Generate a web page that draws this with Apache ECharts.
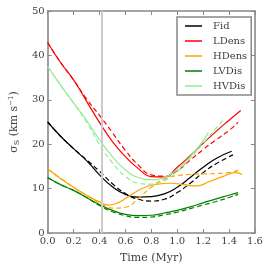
<!DOCTYPE html>
<html><head><meta charset="utf-8">
<script src="https://cdn.jsdelivr.net/npm/echarts@6/dist/echarts.min.js"></script>
<style>html,body{margin:0;padding:0;background:#fff}#c{width:266px;height:269px}</style>
</head><body><div id="c"></div>
<script>
const seriesNames = ['Fid','LDens','HDens','LVDis','HVDis'];
const xTicks = [0,0.2,0.4,0.6,0.8,1.0,1.2,1.4,1.6];
const yTicks = [0,10,20,30,40,50];
const markTime = 0.42;

const fidT  = [0,0.1,0.2,0.3,0.4,0.5,0.6,0.7,0.8,0.9,1.0,1.1,1.2,1.3,1.42];
const fidV  = [25,21.8,19.0,16.3,13.1,10.4,8.7,8.1,8.2,8.8,10.3,12.5,14.8,16.8,18.4];
const fidDT = [0,0.1,0.2,0.3,0.4,0.5,0.6,0.7,0.8,0.9,1.0,1.1,1.2,1.3,1.43];
const fidDV = [25,21.8,19.0,16.5,13.9,11.1,8.9,7.6,7.2,7.6,9.1,11.2,13.6,15.6,17.6];

const ldT  = [0,0.1,0.2,0.3,0.4,0.5,0.6,0.7,0.8,0.9,1.0,1.1,1.2,1.3,1.4,1.49];
const ldV  = [42.9,38.4,34.5,29.7,24.9,20.6,17.2,14.5,12.7,12.6,14.8,17.4,20.2,22.9,25.4,27.6];
const ldDT = [0,0.1,0.2,0.3,0.4,0.5,0.6,0.7,0.8,0.9,1.0,1.1,1.2,1.3,1.4,1.47];
const ldDV = [42.9,38.4,34.5,30.2,26.5,22.6,18.6,15.3,13.1,12.8,14.0,16.4,18.8,21.0,23.1,24.9];

const hdT  = [0,0.1,0.2,0.3,0.4,0.47,0.55,0.65,0.75,0.85,0.95,1.05,1.15,1.25,1.35,1.45,1.5];
const hdV  = [14.4,12.3,10.3,8.5,7.0,6.3,6.9,8.7,10.3,11.0,11.2,10.9,10.6,11.6,12.7,13.6,13.2];
const hdDT = [0,0.1,0.2,0.3,0.4,0.5,0.6,0.7,0.8,0.9,1.0,1.1,1.2,1.3,1.4,1.47];
const hdDV = [14.4,12.3,10.3,8.5,6.8,5.6,5.8,7.8,10.3,12.2,12.9,13.2,13.3,13.4,13.6,14.1];

const lvT  = [0,0.1,0.2,0.3,0.4,0.5,0.6,0.7,0.8,0.9,1.0,1.1,1.2,1.3,1.4,1.47];
const lvV  = [12.5,10.9,9.6,8.0,6.4,5.1,4.2,3.9,4.0,4.5,5.1,5.9,6.8,7.7,8.5,9.1];
const lvDV = [12.5,10.9,9.6,8.0,6.2,4.8,3.9,3.5,3.6,4.1,4.7,5.5,6.3,7.1,8.0,8.7];

const hvT  = [0,0.1,0.2,0.3,0.4,0.5,0.6,0.7,0.8,0.9,1.0,1.1,1.2,1.24];
const hvV  = [37.5,33.3,29.3,25.4,21.0,17.2,14.2,12.5,12.0,12.5,14.3,17.2,20.8,22.6];
const hvDT = [0,0.1,0.2,0.3,0.4,0.5,0.6,0.7,0.8,0.9,1.0,1.1,1.2,1.3,1.35];
const hvDV = [37.5,33.3,29.3,25.0,19.9,15.8,12.8,11.2,11.0,11.8,13.8,16.8,20.2,23.6,25.3];

const colors = {Fid:'#000000', LDens:'#ff0000', HDens:'#ffa500', LVDis:'#008000', HVDis:'#90ee90'};
const zip = (t, v) => t.map((x, i) => [x, v[i]]);
const FONT = 'DejaVu Serif';
const GREY = '#888888';
const TXT = '#404040';

function line(name, t, v, dashed) {
  return {
    name: dashed ? name + ' (dashed)' : name,
    type: 'line', data: zip(t, v), smooth: 0.5, showSymbol: false,
    lineStyle: {color: colors[name], width: 1.2, type: dashed ? [5, 3] : 'solid'},
    itemStyle: {color: colors[name]}, z: 3
  };
}

const series = [
  {type:'line', data:[], silent:true, z:1,
   markLine:{silent:true, symbol:['none','none'], label:{show:false},
     lineStyle:{color:'#cccccc', width:2, type:'solid'}, data:[{xAxis: markTime}]}},
  line('Fid', fidT, fidV, false), line('Fid', fidDT, fidDV, true),
  line('LDens', ldT, ldV, false), line('LDens', ldDT, ldDV, true),
  line('HDens', hdT, hdV, false), line('HDens', hdDT, hdDV, true),
  line('LVDis', lvT, lvV, false), line('LVDis', lvT, lvDV, true),
  line('HVDis', hvT, hvV, false), line('HVDis', hvDT, hvDV, true)
];

const axisCommon = {
  axisLine:{show:true, onZero:false, lineStyle:{color:GREY, width:1.6}},
  axisTick:{show:true, inside:true, length:4, lineStyle:{color:GREY, width:1}},
  splitLine:{show:false}
};

const chart = echarts.init(document.getElementById('c'), null, {renderer:'canvas'});
chart.setOption({
  animation:false,
  backgroundColor:'#ffffff',
  grid:{left:38, right:11, top:11, bottom:36, containLabel:false},
  xAxis:[
    Object.assign({type:'value', min:xTicks[0], max:xTicks[xTicks.length-1], interval:0.2, position:'bottom',
      name:'Time (Myr)', nameLocation:'middle', nameGap:20,
      nameTextStyle:{fontFamily:FONT, fontSize:11, color:TXT},
      axisLabel:{fontFamily:FONT, fontSize:10, color:TXT, margin:3, formatter:v=>v.toFixed(1)}}, axisCommon),
    Object.assign({type:'value', min:xTicks[0], max:xTicks[xTicks.length-1], interval:0.2, position:'top',
      axisLabel:{show:false}}, axisCommon)
  ],
  yAxis:[
    Object.assign({type:'value', min:yTicks[0], max:yTicks[yTicks.length-1], interval:10, position:'left',
      name:'{m|σ}{s|S}{m| (km s}{p|−1}{m|)}', nameLocation:'middle', nameGap:19, nameRotate:90,
      nameTextStyle:{fontFamily:FONT, fontSize:11, color:TXT,
        rich:{m:{fontFamily:FONT, fontSize:11, color:TXT},
              s:{fontFamily:FONT, fontSize:8, color:TXT, padding:[5,0,0,0]},
              p:{fontFamily:FONT, fontSize:7, color:TXT, padding:[0,0,6,0]}}},
      axisLabel:{fontFamily:FONT, fontSize:10, color:TXT, margin:3}}, axisCommon),
    Object.assign({type:'value', min:yTicks[0], max:yTicks[yTicks.length-1], interval:10, position:'right',
      axisLabel:{show:false}}, axisCommon)
  ],
  legend:{
    data:seriesNames, orient:'vertical', left:177, top:17,
    backgroundColor:'#ffffff', borderColor:GREY, borderWidth:1.5, borderRadius:0,
    padding:[3,4,3,8], itemGap:3, itemWidth:17, itemHeight:1.5, icon:'rect',
    textStyle:{fontFamily:FONT, fontSize:10, color:TXT, lineHeight:12, padding:[0,0,0,6]}
  },
  series: series
});
</script></body></html>
